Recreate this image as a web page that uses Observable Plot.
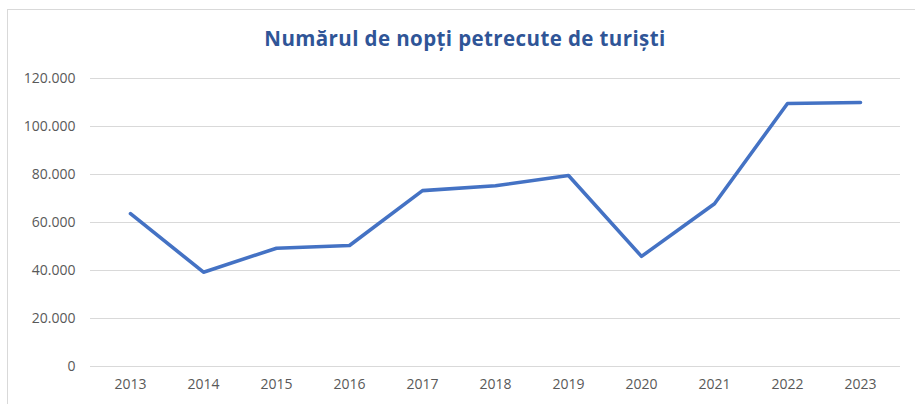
<!DOCTYPE html>
<html>
<head>
<meta charset="utf-8">
<script src="https://cdn.jsdelivr.net/npm/d3@7"></script>
<script src="https://cdn.jsdelivr.net/npm/@observablehq/plot@0.6"></script>
<style>
  html, body { margin: 0; padding: 0; background: #fff; }
  #wrap { position: relative; width: 915px; height: 404px; overflow: hidden; }
  #frame { position: absolute; left: 7px; top: 9px; width: 920px; height: 410px;
           border-left: 1.5px solid #d9d9d9; border-top: 1.5px solid #d9d9d9; box-sizing: border-box; }
  #title { position: absolute; left: 0; width: 930px; top: 24px; text-align: center;
           font-family: "Open Sans", sans-serif; font-weight: 700; font-size: 20.5px;
           color: #2F5597; letter-spacing: 0.4px; }
  #chart { position: absolute; left: 0; top: 60px; }
</style>
</head>
<body>
<div id="wrap">
  <div id="frame"></div>
  <div id="title">Numărul de nopți petrecute de turiști</div>
  <div id="chart"></div>
</div>
<script>
const years = ["2013","2014","2015","2016","2017","2018","2019","2020","2021","2022","2023"];
const nights = [63700, 39300, 49300, 50400, 73300, 75300, 79600, 45900, 67800, 109600, 110000];
const yTicks = [0, 20000, 40000, 60000, 80000, 100000, 120000];

const data = years.map((y, i) => ({year: y, value: nights[i]}));
const fmt = d => d === 0 ? "0" : d3.format(",")(d).replace(/,/g, ".");

const chart = Plot.plot({
  width: 915,
  height: 344,
  marginTop: 18,
  marginBottom: 38,
  marginLeft: 90,
  marginRight: 15,
  style: { fontFamily: "Open Sans, sans-serif", fontSize: "14px", color: "#595959", background: "transparent" },
  x: { type: "point", domain: years, padding: 0.5, label: null },
  y: { domain: [0, 120000], label: null },
  marks: [
    Plot.ruleY(yTicks, { stroke: "#d9d9d9", strokeWidth: 1.2 }),
    Plot.axisY(yTicks, { tickSize: 0, tickPadding: 15, tickFormat: fmt, fill: "#595959", label: null }),
    Plot.axisX({ tickSize: 0, tickPadding: 13, fill: "#595959", label: null }),
    Plot.line(data, { x: "year", y: "value", stroke: "#4472C4", strokeWidth: 3.6, strokeLinejoin: "round", strokeLinecap: "round" })
  ]
});
document.getElementById("chart").appendChild(chart);
</script>
</body>
</html>
